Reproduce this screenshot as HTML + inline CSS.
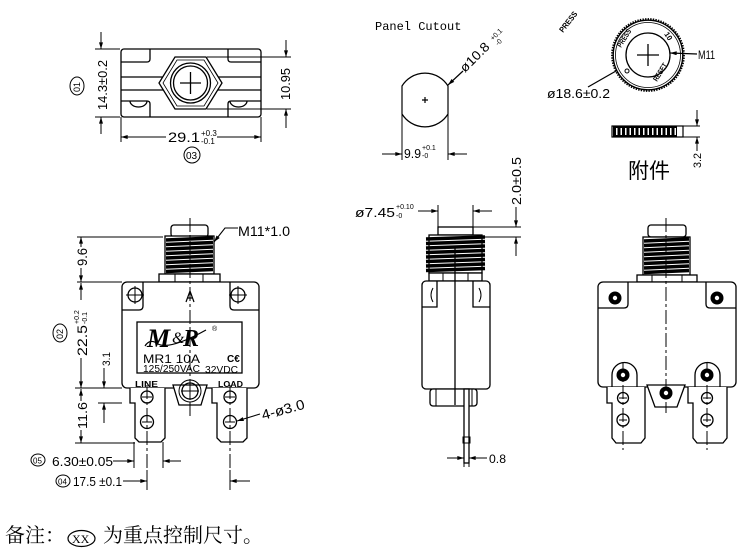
<!DOCTYPE html>
<html><head><meta charset="utf-8"><style>
html,body{margin:0;padding:0;background:#fff;}
svg{display:block;}
text{font-family:"Liberation Sans",sans-serif;fill:#000;}
</style></head><body>
<svg width="756" height="560" viewBox="0 0 756 560" xmlns="http://www.w3.org/2000/svg">
<defs>
<marker id="ar" viewBox="0 0 10 6" refX="10" refY="3" markerWidth="9" markerHeight="4" markerUnits="userSpaceOnUse" orient="auto"><path d="M0,0 L10,3 L0,6 z" fill="#000"/></marker>
</defs>
<rect width="756" height="560" fill="#fff"/>

<!-- ========== TOP-LEFT TOP VIEW ========== -->
<g stroke="#000" stroke-width="1.3" fill="none">
<rect x="121" y="49" width="140" height="68" rx="3"/>
<path d="M121 62 H147 Q150 62 150 59 V49"/>
<path d="M261 62 H231 Q228 62 228 59 V49"/>
<path d="M121 101 H147 Q150 101 150 104 V117"/>
<path d="M261 101 H231 Q228 101 228 104 V117"/>
<path d="M130 101 A8.5 6 0 0 0 147 101"/>
<path d="M230 101 A8.5 6 0 0 0 247 101"/>
<path d="M121 77 H163 M218 77 H261 M121 90 H163 M218 90 H261"/>
<polygon points="175,57 206,57 222,83 206,109 175,109 159,83"/>
<polygon points="177,60 204,60 218,83 204,106 177,106 163,83" stroke-width="0.8"/>
<circle cx="190.5" cy="83" r="20"/>
<circle cx="190.5" cy="83" r="17"/>
<path d="M180 83 H201 M190.5 72 V94"/>
<!-- dims -->
<path d="M95 49 H120 M95 117 H120" stroke-width="1"/>
<line x1="101" y1="32" x2="101" y2="49" marker-end="url(#ar)" stroke-width="1"/>
<line x1="101" y1="134" x2="101" y2="117" marker-end="url(#ar)" stroke-width="1"/>
<path d="M207 57 H291 M207 109 H291" stroke-width="1"/>
<line x1="286" y1="40" x2="286" y2="57" marker-end="url(#ar)" stroke-width="1"/>
<line x1="286" y1="128" x2="286" y2="109" marker-end="url(#ar)" stroke-width="1"/>
<path d="M121 117 V142 M261 117 V142" stroke-width="1"/>
<line x1="166" y1="137" x2="121" y2="137" marker-end="url(#ar)" stroke-width="1"/>
<line x1="217" y1="137" x2="261" y2="137" marker-end="url(#ar)" stroke-width="1"/>
<ellipse cx="77" cy="86" rx="7" ry="9" stroke-width="1"/>
<ellipse cx="192" cy="155" rx="8" ry="8" stroke-width="1"/>
</g>
<text transform="translate(107,110) rotate(-90)" font-size="13" textLength="50" lengthAdjust="spacingAndGlyphs">14.3±0.2</text>
<text transform="translate(290,100) rotate(-90)" font-size="13" textLength="32" lengthAdjust="spacingAndGlyphs">10.95</text>
<text transform="translate(80,92) rotate(-90)" font-size="9">01</text>
<text x="168" y="142" font-size="14" textLength="32" lengthAdjust="spacingAndGlyphs">29.1</text>
<text x="201" y="136" font-size="8">+0.3</text>
<text x="201" y="144" font-size="8">-0.1</text>
<text x="186" y="159" font-size="10">03</text>

<!-- ========== PANEL CUTOUT ========== -->
<text x="375" y="30" font-size="12" style="font-family:'Liberation Mono',monospace" fill="#1b2550">Panel Cutout</text>
<g stroke="#000" stroke-width="1.2" fill="none">
<path d="M402 114 V86 A27 27 0 0 1 448 86 V114 A27 27 0 0 1 402 114 Z"/>
<path d="M422 100 H428 M425 97 V103"/>
<path d="M402 114 V160 M448 114 V160" stroke-width="1"/>
<line x1="382" y1="154" x2="402" y2="154" marker-end="url(#ar)" stroke-width="1"/>
<line x1="467" y1="154" x2="448" y2="154" marker-end="url(#ar)" stroke-width="1"/>
<line x1="463" y1="71" x2="448" y2="85" marker-end="url(#ar)" stroke-width="1.2"/>
</g>
<text x="404" y="158" font-size="13" textLength="17" lengthAdjust="spacingAndGlyphs">9.9</text>
<text x="422" y="150" font-size="7">+0.1</text>
<text x="422" y="158" font-size="7">-0</text>
<text transform="translate(465,73) rotate(-45)" font-size="13" textLength="36" lengthAdjust="spacingAndGlyphs">ø10.8</text>
<text transform="translate(493,41) rotate(-45)" font-size="7">+0.1</text>
<text transform="translate(498,46) rotate(-45)" font-size="7">-0</text>

<!-- ========== KNOB TOP-RIGHT ========== -->
<g stroke="#000" fill="none">
<circle cx="648" cy="55" r="36" stroke-width="1.8" stroke-dasharray="1.4 1.2"/>
<circle cx="648" cy="55" r="34.8" stroke-width="1.4"/>
<circle cx="648" cy="55" r="32.5" stroke-width="0.8"/>
<circle cx="648" cy="55" r="22" stroke-width="1.3"/>
<path d="M637 55 H659 M648 44 V66" stroke-width="1.3"/>
<circle cx="627" cy="71" r="2" stroke-width="1"/>
<line x1="697" y1="54" x2="670" y2="53" marker-end="url(#ar)" stroke-width="1.2"/>
<line x1="588" y1="87" x2="616" y2="71" stroke-width="1.2"/>
</g>
<text transform="translate(563,33) rotate(-52)" font-size="8" font-weight="bold" textLength="24" lengthAdjust="spacingAndGlyphs">PRESS</text>
<text transform="translate(621,48) rotate(-58)" font-size="7.5" font-weight="bold" textLength="20" lengthAdjust="spacingAndGlyphs">PRESS</text>
<text transform="translate(664,34) rotate(58)" font-size="7.5" font-weight="bold">10</text>
<text transform="translate(657,82) rotate(-58)" font-size="7.5" font-weight="bold" textLength="20" lengthAdjust="spacingAndGlyphs">RESET</text>
<text x="698" y="59" font-size="12" textLength="17" lengthAdjust="spacingAndGlyphs">M11</text>
<text x="547" y="98" font-size="13" textLength="63" lengthAdjust="spacingAndGlyphs">ø18.6±0.2</text>
<!-- knurl side -->
<rect x="612" y="126" width="71" height="11" fill="#fff" stroke="#000" stroke-width="1.2"/>
<rect x="613" y="126.5" width="64" height="10" fill="#000"/>
<g fill="#fff">
<rect x="616" y="128" width="1.5" height="7"/><rect x="620.5" y="128" width="1.5" height="7"/><rect x="625" y="128" width="1.5" height="7"/><rect x="629.5" y="128" width="1.5" height="7"/><rect x="634" y="128" width="1.5" height="7"/><rect x="638.5" y="128" width="1.5" height="7"/><rect x="643" y="128" width="1.5" height="7"/><rect x="647.5" y="128" width="1.5" height="7"/><rect x="652" y="128" width="1.5" height="7"/><rect x="656.5" y="128" width="1.5" height="7"/><rect x="661" y="128" width="1.5" height="7"/><rect x="665.5" y="128" width="1.5" height="7"/><rect x="670" y="128" width="1.5" height="7"/><rect x="674.5" y="128" width="1.5" height="7"/>
</g>
<g stroke="#000" stroke-width="1" fill="none">
<path d="M683 126 H700 M683 137 H700"/>
<line x1="697" y1="110" x2="697" y2="126" marker-end="url(#ar)"/>
<line x1="697" y1="151" x2="697" y2="137" marker-end="url(#ar)"/>
</g>
<text transform="translate(701,168) rotate(-90)" font-size="11" textLength="15" lengthAdjust="spacingAndGlyphs">3.2</text>
<text x="628" y="178" style="font-family:'Liberation Sans','Noto Sans CJK SC',sans-serif" font-size="21" fill="#22407a">附件</text>

<!-- ========== BOTTOM-LEFT FRONT VIEW ========== -->
<g stroke="#000" stroke-width="1.3" fill="none">
<rect x="171" y="225" width="37" height="12" rx="3"/>
<rect x="165" y="236" width="49" height="38" fill="#fff"/>
<g stroke-width="3.4">
<path d="M166 240 L213 238"/><path d="M166 244.5 L213 242.5"/><path d="M166 249 L213 247"/><path d="M166 253.5 L213 251.5"/><path d="M166 258 L213 256"/><path d="M166 262.5 L213 260.5"/><path d="M166 267 L213 265"/><path d="M166 271.5 L213 269.5"/>
</g>
<rect x="159" y="274" width="61" height="8" fill="#fff"/>
<path d="M175 274 V282 M203 274 V282" stroke-width="1"/>
<rect x="122" y="282" width="137" height="106" rx="5" fill="#fff"/>
<path d="M122 310 H139 Q143 310 143 306 V282"/>
<path d="M259 310 H234 Q230 310 230 306 V282"/>
<circle cx="135" cy="295" r="7"/><path d="M126 295 H144 M135 286 V304" stroke-width="1"/>
<circle cx="238" cy="295" r="7"/><path d="M229 295 H247 M238 286 V304" stroke-width="1"/>
<rect x="137" y="322" width="105" height="51"/>
<!-- boss -->
<path d="M173 385 L207 385 L201 405 L179 405 Z" fill="#fff"/>
<circle cx="190" cy="391" r="11" stroke-width="1"/>
<circle cx="190" cy="391" r="8"/>
<path d="M181 391 H199 M190 382 V400" stroke-width="1"/>
<!-- terminals -->
<path d="M130 388 V403 H135 V438 L139 442 H161 L165 438 V388" fill="#fff"/>
<path d="M212 388 V403 H217 V438 L221 442 H243 L247 438 V388" fill="#fff"/>
<circle cx="147" cy="397" r="6"/><circle cx="147" cy="422" r="6.5"/>
<circle cx="230" cy="397" r="6"/><circle cx="230" cy="422" r="6.5"/>
<path d="M142 397 H152 M142 422 H152 M225 397 H235 M225 422 H235" stroke-width="1"/>
<path d="M147 385 V490 M230 385 V490" stroke-width="1" stroke-dasharray="14 3 3 3"/>
<path d="M190 218 V418" stroke-width="1" stroke-dasharray="14 3 3 3"/>
<path d="M186 302 L190 291 L194 302 M187 298 H193" stroke-width="1.2"/>
<!-- leaders -->
<path d="M238 228 H225 L214 242" stroke-width="1.1" marker-end="url(#ar)"/>
<line x1="260" y1="414" x2="237" y2="421" marker-end="url(#ar)" stroke-width="1.1"/>
<!-- vertical dims -->
<g stroke-width="1">
<path d="M77 237 H163 M77 282 H122 M75 388 H122 M75 443 H135 M98 403 H122"/>
<line x1="81" y1="247" x2="81" y2="237" marker-end="url(#ar)"/>
<line x1="81" y1="268" x2="81" y2="282" marker-end="url(#ar)"/>
<line x1="81" y1="300" x2="81" y2="283" marker-end="url(#ar)"/>
<line x1="81" y1="358" x2="81" y2="388" marker-end="url(#ar)"/>
<line x1="81" y1="401" x2="81" y2="389" marker-end="url(#ar)"/>
<line x1="81" y1="430" x2="81" y2="443" marker-end="url(#ar)"/>
<line x1="104" y1="368" x2="104" y2="388" marker-end="url(#ar)"/>
<line x1="104" y1="423" x2="104" y2="403" marker-end="url(#ar)"/>
<path d="M134 442 V468 M163 442 V468 M147 470 V488 M230 470 V488"/>
<line x1="113" y1="461" x2="134" y2="461" marker-end="url(#ar)"/>
<line x1="181" y1="461" x2="163" y2="461" marker-end="url(#ar)"/>
<line x1="123" y1="481" x2="147" y2="481" marker-end="url(#ar)"/>
<line x1="250" y1="481" x2="230" y2="481" marker-end="url(#ar)"/>
</g>
<ellipse cx="60" cy="333" rx="7" ry="9" stroke-width="1"/>
<ellipse cx="38" cy="460" rx="7" ry="6" stroke-width="1"/>
<ellipse cx="63" cy="481" rx="7" ry="6" stroke-width="1"/>
</g>
<!-- label contents -->
<text x="147" y="347" style="font-family:'Liberation Serif',serif" font-style="italic" font-weight="bold" font-size="26">M</text>
<text x="172" y="343" style="font-family:'Liberation Serif',serif" font-style="italic" font-size="16">&amp;</text>
<text x="183" y="346" style="font-family:'Liberation Serif',serif" font-style="italic" font-weight="bold" font-size="24">R</text>
<path d="M145 346 Q150 338 158 344 Q170 350 206 330" stroke="#000" stroke-width="1.2" fill="none"/>
<text x="212" y="331" font-size="7">®</text>
<text x="143" y="363" font-size="12" fill="#2b4fa6" textLength="57" lengthAdjust="spacingAndGlyphs">MR1  10A</text>
<text x="227" y="362" font-size="10" font-weight="bold">C€</text>
<text x="143" y="372" font-size="10" fill="#2b4fa6" textLength="57" lengthAdjust="spacingAndGlyphs">125/250VAC</text>
<text x="205" y="373" font-size="10" fill="#2b4fa6" textLength="33" lengthAdjust="spacingAndGlyphs">32VDC</text>
<text x="135" y="387" font-size="8" font-weight="bold" textLength="23" lengthAdjust="spacingAndGlyphs">LINE</text>
<text x="218" y="387" font-size="8" font-weight="bold" textLength="25" lengthAdjust="spacingAndGlyphs">LOAD</text>
<!-- dim texts -->
<text x="238" y="236" font-size="14" textLength="52" lengthAdjust="spacingAndGlyphs">M11*1.0</text>
<text transform="translate(263,420) rotate(-15)" font-size="14" textLength="44" lengthAdjust="spacingAndGlyphs">4-ø3.0</text>
<text transform="translate(87,266) rotate(-90)" font-size="14" textLength="18" lengthAdjust="spacingAndGlyphs">9.6</text>
<text transform="translate(87,356) rotate(-90)" font-size="14" textLength="31" lengthAdjust="spacingAndGlyphs">22.5</text>
<text transform="translate(79,324) rotate(-90)" font-size="7">+0.2</text>
<text transform="translate(87,324) rotate(-90)" font-size="7">-0.1</text>
<text transform="translate(63,339) rotate(-90)" font-size="9">02</text>
<text transform="translate(110,366) rotate(-90)" font-size="11" textLength="14" lengthAdjust="spacingAndGlyphs">3.1</text>
<text transform="translate(87,429) rotate(-90)" font-size="13" textLength="27" lengthAdjust="spacingAndGlyphs">11.6</text>
<text x="52" y="466" font-size="13" textLength="61" lengthAdjust="spacingAndGlyphs">6.30±0.05</text>
<text x="33" y="463.5" font-size="8">05</text>
<text x="73" y="486" font-size="13" textLength="49" lengthAdjust="spacingAndGlyphs">17.5 ±0.1</text>
<text x="58" y="484.5" font-size="8">04</text>

<!-- ========== BOTTOM-MIDDLE SIDE VIEW ========== -->
<g stroke="#000" stroke-width="1.3" fill="none">
<rect x="438" y="227" width="35" height="8"/>
<rect x="429" y="235" width="53" height="38" fill="#fff"/>
<g stroke-width="3.4">
<path d="M426 239 L485 237"/><path d="M426 243.5 L485 241.5"/><path d="M426 248 L485 246"/><path d="M426 252.5 L485 250.5"/><path d="M426 257 L485 255"/><path d="M426 261.5 L485 259.5"/><path d="M426 266 L485 264"/><path d="M426 270.5 L485 268.5"/>
</g>
<rect x="429" y="273" width="53" height="8" fill="#fff"/>
<path d="M443 273 V281 M468 273 V281" stroke-width="1"/>
<rect x="422" y="281" width="68" height="108" rx="4" fill="#fff"/>
<path d="M422 307 H437 V281 M490 307 H473 V281"/>
<path d="M433 288 Q429 295 433 302 M479 288 Q483 295 479 302" stroke-width="1"/>
<rect x="430" y="389" width="47" height="17" rx="3" fill="#fff"/>
<path d="M436 389 V406 M472 389 V406" stroke-width="1"/>
<rect x="464" y="389" width="5" height="74" fill="#fff"/>
<rect x="463" y="437" width="7" height="6" stroke-width="1"/>
<path d="M455 247 V405"/>
<g stroke-width="1">
<path d="M438 205 V227 M473 205 V227 M473 227 H521 M482 237 H521 M464 463 V467 M469 463 V467"/>
<line x1="418" y1="211" x2="438" y2="211" marker-end="url(#ar)"/>
<line x1="492" y1="211" x2="473" y2="211" marker-end="url(#ar)"/>
<line x1="516" y1="207" x2="516" y2="227" marker-end="url(#ar)"/>
<line x1="516" y1="256" x2="516" y2="237" marker-end="url(#ar)"/>
<line x1="447" y1="458" x2="464" y2="458" marker-end="url(#ar)"/>
<line x1="487" y1="458" x2="469" y2="458" marker-end="url(#ar)"/>
</g>
</g>
<text x="355" y="217" font-size="13" textLength="40" lengthAdjust="spacingAndGlyphs">ø7.45</text>
<text x="396" y="209" font-size="7">+0.10</text>
<text x="396" y="218" font-size="7">-0</text>
<text transform="translate(521,205) rotate(-90)" font-size="13" textLength="48" lengthAdjust="spacingAndGlyphs">2.0±0.5</text>
<text x="489" y="463" font-size="12" textLength="17" lengthAdjust="spacingAndGlyphs">0.8</text>

<!-- ========== BOTTOM-RIGHT VIEW ========== -->
<g stroke="#000" stroke-width="1.3" fill="none">
<rect x="648" y="225" width="38" height="12" rx="3"/>
<rect x="643" y="237" width="47" height="38" fill="#fff"/>
<g stroke-width="3.4">
<path d="M644 241 L689 239"/><path d="M644 245.5 L689 243.5"/><path d="M644 250 L689 248"/><path d="M644 254.5 L689 252.5"/><path d="M644 259 L689 257"/><path d="M644 263.5 L689 261.5"/><path d="M644 268 L689 266"/><path d="M644 272.5 L689 270.5"/>
</g>
<rect x="637" y="275" width="60" height="7" fill="#fff"/>
<path d="M652 275 V282 M682 275 V282" stroke-width="1"/>
<rect x="598" y="282" width="138" height="105" rx="5" fill="#fff"/>
<path d="M598 308 H624 Q628 308 628 304 V282"/>
<path d="M736 308 H710 Q706 308 706 304 V282"/>
<path d="M612 387 V375 A12.5 12.5 0 0 1 637 375 V387"/>
<path d="M695 387 V375 A12.5 12.5 0 0 1 720 375 V387"/>
<path d="M647 385 L685 385 L677 407 L655 407 Z" fill="#fff"/>
<path d="M607 387 V403 H612 V438 L616 443 H641 L645 438 V387" fill="#fff"/>
<path d="M688 387 V403 H693 V438 L697 443 H723 L727 438 V387" fill="#fff"/>
<circle cx="623" cy="398" r="5.5"/><circle cx="623" cy="420" r="6"/>
<circle cx="707" cy="398" r="5.5"/><circle cx="707" cy="420" r="6"/>
<path d="M619 398 H627 M619 420 H627 M703 398 H711 M703 420 H711" stroke-width="1"/>
<path d="M623 362 V450 M707 362 V450" stroke-width="1" stroke-dasharray="14 3 3 3"/>
<path d="M666 218 V413" stroke-width="1" stroke-dasharray="14 3 3 3"/>
</g>
<g fill="#000">
<circle cx="615" cy="298" r="6.5"/><circle cx="717" cy="298" r="6.5"/>
<circle cx="623" cy="375" r="6.5"/><circle cx="707" cy="375" r="6.5"/>
<circle cx="666" cy="393" r="6.5"/>
</g>
<g fill="#fff">
<circle cx="615" cy="298" r="2.2"/><circle cx="717" cy="298" r="2.2"/>
<circle cx="623" cy="375" r="2.2"/><circle cx="707" cy="375" r="2.2"/>
<circle cx="666" cy="393" r="2.2"/>
</g>

<!-- ========== NOTE ========== -->
<text x="5" y="542" font-size="20" style="font-family:'Liberation Serif','Noto Serif CJK SC',serif">备注：</text>
<ellipse cx="81.5" cy="538.5" rx="13.5" ry="8" fill="none" stroke="#000" stroke-width="1.2"/>
<text x="72" y="543" font-size="12" style="font-family:'Liberation Serif',serif">XX</text>
<text x="103" y="542" font-size="20" style="font-family:'Liberation Serif','Noto Serif CJK SC',serif">为重点控制尺寸。</text>
</svg>
</body></html>
